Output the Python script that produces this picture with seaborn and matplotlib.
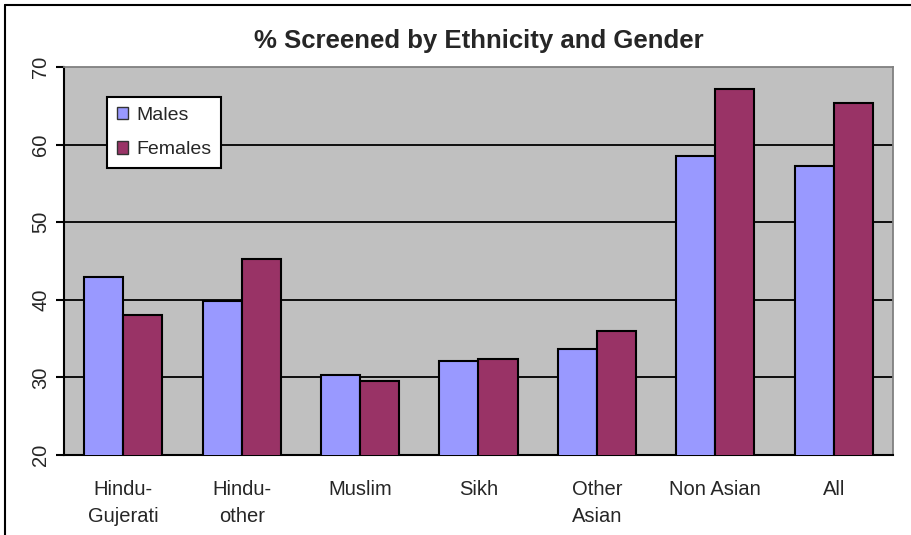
import matplotlib
matplotlib.use("Agg")
import matplotlib.pyplot as plt
from matplotlib.lines import Line2D
from matplotlib.patches import Patch
import seaborn as sns
import pandas as pd

categories = ["Hindu-\nGujerati", "Hindu-\nother", "Muslim", "Sikh", "Other\nAsian", "Non Asian", "All"]
males = [43.0, 39.8, 30.3, 32.1, 33.7, 58.5, 57.2]
females = [38.0, 45.3, 29.5, 32.4, 36.0, 67.2, 65.4]
series = ["Males", "Females"]
colors = ["#9999FF", "#993366"]

df = pd.DataFrame({
    "Group": categories * 2,
    "Value": males + females,
    "Sex": ["Males"] * len(categories) + ["Females"] * len(categories),
})

sns.set_style("white")
plt.rcParams["font.family"] = ["Liberation Sans", "DejaVu Sans"]

fig = plt.figure(figsize=(9.11, 5.35), dpi=100)
ax = fig.add_axes([64 / 911, 1 - 455 / 535, (893 - 64) / 911, (455 - 67) / 535])

sns.barplot(data=df, x="Group", y="Value", hue="Sex", hue_order=series,
            palette=colors, width=0.66, edgecolor="black", linewidth=1.5,
            saturation=1, ax=ax, legend=False, zorder=3)

ax.set_facecolor("#C0C0C0")
ax.set_ylim(20, 70)
ax.set_xlim(-0.5, len(categories) - 0.5)
ax.set_yticks([20, 30, 40, 50, 60, 70])
ax.set_yticklabels(["20", "30", "40", "50", "60", "70"], rotation=90, va="center", fontsize=14.5)
for y in [30, 40, 50, 60]:
    ax.axhline(y, color="black", linewidth=1.3, zorder=1)

# category labels centred, tick marks at group boundaries
ax.set_xticks(range(len(categories)))
ax.set_xticklabels(categories, fontsize=14.5, linespacing=1.5)
ax.tick_params(axis="x", length=0, pad=18)
ax.set_xticks([i - 0.5 for i in range(len(categories) + 1)], minor=True)
ax.tick_params(axis="x", which="minor", length=6, width=1.5, color="black", direction="out")
ax.tick_params(axis="y", length=6, width=1.5, color="black", direction="out", pad=4, left=True)
ax.set_xlabel("")
ax.set_ylabel("")

for side in ["top", "right"]:
    ax.spines[side].set_color("#808080")
    ax.spines[side].set_linewidth(1.3)
for side in ["left", "bottom"]:
    ax.spines[side].set_color("black")
    ax.spines[side].set_linewidth(1.5)

ax.set_title("% Screened by Ethnicity and Gender", fontsize=18.5, fontweight="bold", pad=14)

handles = [Patch(facecolor=c, edgecolor="#333333", linewidth=1.0) for c in colors]
leg = ax.legend(handles, series, loc="upper left", bbox_to_anchor=(43 / 829, 1 - 30 / 388),
                frameon=True, fancybox=False, shadow=False, fontsize=14,
                handlelength=0.6, handleheight=0.6, handletextpad=0.4,
                borderpad=0.5, labelspacing=0.9, borderaxespad=0)
leg.get_frame().set_edgecolor("black")
leg.get_frame().set_linewidth(1.5)
leg.get_frame().set_facecolor("white")
leg.get_frame().set_alpha(1)
leg.set_zorder(5)

# outer chart border (top and left edges visible)
fig.add_artist(Line2D([5 / 911, 5 / 911], [0, 1 - 5 / 535], color="black", linewidth=1.5, transform=fig.transFigure))
fig.add_artist(Line2D([5 / 911, 1], [1 - 5 / 535, 1 - 5 / 535], color="black", linewidth=1.5, transform=fig.transFigure))

fig.savefig("out.png", dpi=100, facecolor="white")
